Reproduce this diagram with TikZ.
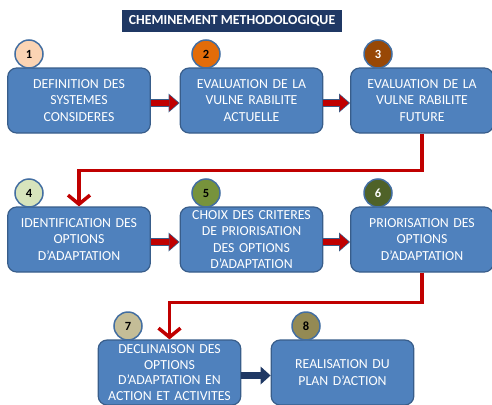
\documentclass[tikz,border=0pt]{standalone}
\usepackage{fontspec}
\setmainfont{Carlito}
\usepackage{tikz}
\usetikzlibrary{arrows.meta}
\definecolor{boxblue}{HTML}{4F81BD}
\definecolor{boxedge}{HTML}{385D8A}
\definecolor{navy}{HTML}{1F3864}
\definecolor{linkred}{HTML}{C00000}

\begin{document}
\begin{tikzpicture}[x=1pt, y=-1pt,
		stepbox/.style={draw=boxedge, line width=1.2pt, fill=boxblue, rounded corners=9pt,
			minimum width=138pt, minimum height=65pt, text width=136pt, align=center,
			text=white, font=\fontsize{13.8}{16.2}\selectfont},
		numdot/.style={circle, draw=boxblue!85!black, line width=1.5pt, minimum size=28pt,
			inner sep=0pt, font=\bfseries\fontsize{12.5}{13}\selectfont},
		link/.style={linkred, line width=3.5pt,
			-{Straight Barb[length=9pt, width=22pt, line width=3.5pt]}}]
		\useasboundingbox (0,0) rectangle (492,404);

		% Title
		\node[fill=navy, text=white, font=\bfseries\fontsize{13.8}{14}\selectfont,
			minimum width=220pt, minimum height=22pt, inner xsep=2pt] (title) at (232,21)
			{CHEMINEMENT METHODOLOGIQUE};

		% Steps
		\node[stepbox] (b1) at (79,100.5) {DEFINITION DES\\SYSTEMES\\CONSIDERES};
		\node[stepbox] (b2) at (251.5,100.5) {EVALUATION DE LA\\VULNE RABILITE\\ACTUELLE};
		\node[stepbox] (b3) at (422,100.5) {EVALUATION DE LA\\VULNE RABILITE\\FUTURE};
		\node[stepbox] (b4) at (79,239.5) {IDENTIFICATION DES\\OPTIONS\\D’ADAPTATION};
		\node[stepbox] (b5) at (251.5,239.5) {CHOIX DES CRITERES\\DE PRIORISATION\\DES OPTIONS\\D’ADAPTATION};
		\node[stepbox] (b6) at (422,239.5) {PRIORISATION DES\\OPTIONS\\D’ADAPTATION};
		\node[stepbox, font=\fontsize{13.8}{15.8}\selectfont] (b7) at (169.5,372.5)
			{DECLINAISON DES\\OPTIONS\\D’ADAPTATION EN\\ACTION ET ACTIVITES};
		\node[stepbox] (b8) at (342.5,372.5) {REALISATION DU\\PLAN D’ACTION};

		% Numbers
		\node[numdot, fill={rgb,255:red,251;green,212;blue,180}] (n1) at (29,54) {1};
		\node[numdot, fill={rgb,255:red,227;green,108;blue,9}] (n2) at (206,54) {2};
		\node[numdot, fill={rgb,255:red,152;green,72;blue,6}, text=white] (n3) at (378,54) {3};
		\node[numdot, fill={rgb,255:red,215;green,228;blue,188}] (n4) at (29,193) {4};
		\node[numdot, fill={rgb,255:red,119;green,147;blue,60}] (n5) at (206,193) {5};
		\node[numdot, fill={rgb,255:red,79;green,98;blue,40}, text=white] (n6) at (378,193) {6};
		\node[numdot, fill={rgb,255:red,196;green,189;blue,151}] (n7) at (128,326) {7};
		\node[numdot, fill={rgb,255:red,148;green,138;blue,84}] (n8) at (306,326) {8};

		% Arrows within a row
		\foreach \a/\b in {b1/b2, b2/b3, b4/b5, b5/b6} {
			\draw[boxedge, line width=8.6pt,
				-{Triangle[length=11pt, width=19pt, line width=0pt]}]
				([yshift=-2.5pt]\a.east) -- ([yshift=-2.5pt]\b.west);
			\draw[linkred, line width=6pt, shorten >=1.3pt,
				-{Triangle[length=9pt, width=16pt, line width=0pt]}]
				([yshift=-2.5pt]\a.east) -- ([yshift=-2.5pt]\b.west);
		}
		\draw[navy, line width=7.5pt, -{Triangle[length=10pt, width=18pt, line width=0pt]}]
			([yshift=-3pt]b7.east) -- ([yshift=-3pt]b8.west);

		% Row changes
		\draw[link] (b3.south) -- ++(0,37) -| (b4.north);
		\draw[link] (b6.south) -- ++(0,30) -| (b7.north);
	\end{tikzpicture}
\end{document}
